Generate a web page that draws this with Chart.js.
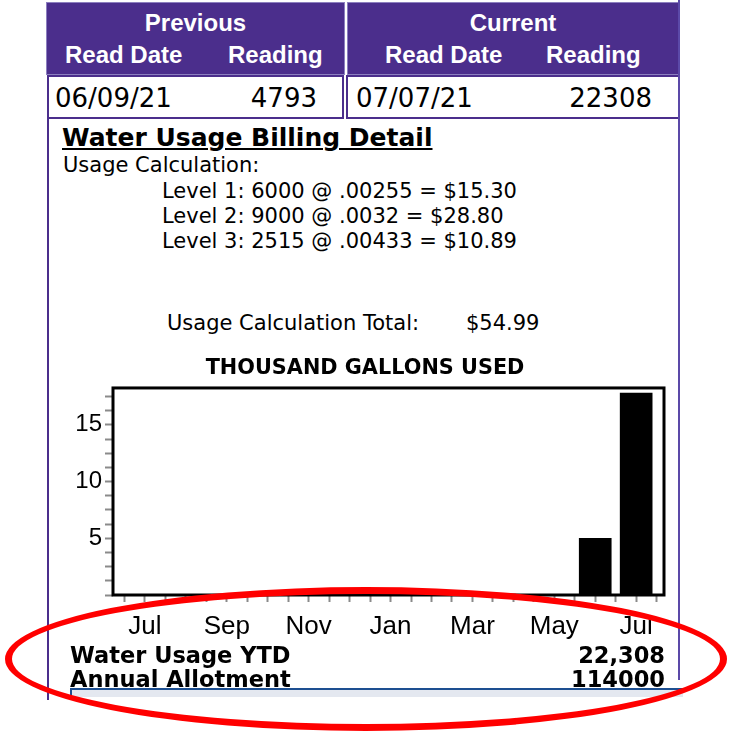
<!DOCTYPE html>
<html>
<head>
<meta charset="utf-8">
<script src="https://cdn.jsdelivr.net/npm/chart.js"></script>
<style>
  body { margin: 0; width: 731px; height: 734px; position: relative; overflow: hidden; background: #fff; font-family: 'DejaVu Sans', sans-serif; color: #000; }
  .abs { position: absolute; white-space: nowrap; line-height: 1; }
  .hdr { position: absolute; top: 3px; height: 71px; background: #4b2e8c; outline: 1px solid #8c7fbf; }
  .hdr .abs { color: #fff; font: bold 24px 'Liberation Sans', Arial, sans-serif; line-height: 1; }
  .cell { position: absolute; top: 75px; height: 40px; border: 2px solid #4b2e8c; background: #fff; }
  .row { font-size: 26px; }
  .calc { font-size: 21px; }
  .ytd { font-size: 22.5px; font-weight: bold; }
  #wrap { position: absolute; left: 47px; top: 345px; width: 636px; height: 300px; }
  #ring { position: absolute; left: 5px; top: 587px; width: 708px; height: 130px; border: 7px solid #f00; border-radius: 50%; z-index: 10; }
</style>
</head>
<body>
<div class="hdr" style="left:47px;width:297px">
  <div class="abs" style="left:0;width:297px;text-align:center;top:8px">Previous</div>
  <div class="abs" style="left:18px;top:40px">Read Date</div>
  <div class="abs" style="left:181px;top:40px">Reading</div>
</div>
<div class="hdr" style="left:348px;width:330px">
  <div class="abs" style="left:0;width:330px;text-align:center;top:8px">Current</div>
  <div class="abs" style="left:37px;top:40px">Read Date</div>
  <div class="abs" style="left:198px;top:40px">Reading</div>
</div>
<div class="cell" style="left:47px;width:293px"></div>
<div class="cell" style="left:346px;width:330px"></div>
<div class="abs row" style="left:55px;top:85px">06/09/21</div>
<div class="abs row" style="left:200px;width:117px;text-align:right;top:85px">4793</div>
<div class="abs row" style="left:356px;top:85px">07/07/21</div>
<div class="abs row" style="left:500px;width:152px;text-align:right;top:85px">22308</div>

<div style="position:absolute;left:47px;top:117px;width:2px;height:583px;background:#4b2e8c"></div>
<div style="position:absolute;left:678px;top:0;width:2px;height:680px;background:#5b49a8"></div>

<div class="abs" style="left:62px;top:125px;font-size:25px;font-weight:bold;text-decoration:underline">Water Usage Billing Detail</div>
<div class="abs calc" style="left:63px;top:155px">Usage Calculation:</div>
<div class="abs calc" style="left:162px;top:181px">Level 1: 6000 @ .00255 = $15.30</div>
<div class="abs calc" style="left:162px;top:206px">Level 2: 9000 @ .0032 = $28.80</div>
<div class="abs calc" style="left:162px;top:231px">Level 3: 2515 @ .00433 = $10.89</div>
<div class="abs calc" style="left:167px;top:313px">Usage Calculation Total:</div>
<div class="abs calc" style="left:466px;top:313px">$54.99</div>

<div id="wrap"><canvas id="chart" width="636" height="300"></canvas></div>

<div class="abs ytd" style="left:70px;top:644px">Water Usage YTD</div>
<div class="abs ytd" style="left:400px;width:265px;text-align:right;top:644px">22,308</div>
<div class="abs ytd" style="left:70px;top:668px">Annual Allotment</div>
<div class="abs ytd" style="left:400px;width:265px;text-align:right;top:668px">114000</div>
<div style="position:absolute;left:70px;top:688px;width:613px;height:2px;background:#1d4f91"></div>
<div style="position:absolute;left:70px;top:690px;width:613px;height:7px;background:#e4e8f0"></div>
<div style="position:absolute;left:70px;top:688px;width:2px;height:9px;background:#1d4f91"></div>

<div id="ring"></div>

<script>
// monthly usage, thousand gallons (Jul 2020 .. Jul 2021)
const months = ['Jul', 'Aug', 'Sep', 'Oct', 'Nov', 'Dec', 'Jan', 'Feb', 'Mar', 'Apr', 'May', 'Jun', 'Jul'];
const usage = [0, 0, 0, 0, 0, 0, 0, 0, 0, 0, 0, 5.0, 17.8];

const frame = {
  id: 'frame',
  afterDatasetsDraw(chart) {
    const { ctx, chartArea: a } = chart;
    ctx.save();
    ctx.strokeStyle = '#000';
    ctx.lineWidth = 3;
    ctx.strokeRect(a.left, a.top, a.right - a.left, a.bottom - a.top);
    ctx.restore();
  }
};

// ticks every `step`, kept inside the axis range
function stepTicks(step) {
  return scale => {
    const t = [];
    for (let v = Math.ceil(scale.min / step) * step; v <= scale.max + 1e-9; v += step) t.push({ value: v });
    scale.ticks = t;
  };
}

new Chart(document.getElementById('chart'), {
  type: 'bar',
  data: {
    datasets: [{
      data: usage.map((v, i) => ({ x: i, y: v })),
      backgroundColor: '#000',
      borderWidth: 0,
      barThickness: 32
    }]
  },
  options: {
    responsive: false,
    animation: false,
    layout: { padding: { left: 19, right: 19 } },
    plugins: {
      legend: { display: false },
      tooltip: { enabled: false },
      title: {
        display: true,
        text: 'THOUSAND GALLONS USED',
        color: '#000',
        font: { family: 'DejaVu Sans', size: 20.8, weight: 'bold' },
        padding: { top: 11, bottom: 7 }
      }
    },
    scales: {
      x: {
        type: 'linear',
        offset: false,
        min: -0.78,
        max: 12.68,
        afterBuildTicks: stepTicks(0.5),
        afterFit: s => { s.height = 50; },
        border: { display: false },
        grid: { offset: false, drawOnChartArea: false, tickLength: 7, tickWidth: 2, tickColor: '#8a8a8a' },
        ticks: {
          autoSkip: false,
          maxRotation: 0,
          padding: 9,
          color: '#000',
          font: { family: 'Liberation Sans', size: 26 },
          callback: v => (Number.isInteger(v) && v % 2 === 0 ? months[v] : '')
        }
      },
      y: {
        min: 0,
        max: 18.25,
        afterBuildTicks: stepTicks(1.25),
        afterFit: s => { s.width = 47; },
        border: { display: false },
        grid: { drawOnChartArea: false, tickLength: 8, tickWidth: 2, tickColor: '#8a8a8a' },
        ticks: {
          autoSkip: false,
          padding: 3,
          color: '#000',
          font: { family: 'Liberation Sans', size: 24 },
          callback: v => (v > 0 && v % 5 === 0 ? v : '')
        }
      }
    }
  },
  plugins: [frame]
});
</script>
</body>
</html>
